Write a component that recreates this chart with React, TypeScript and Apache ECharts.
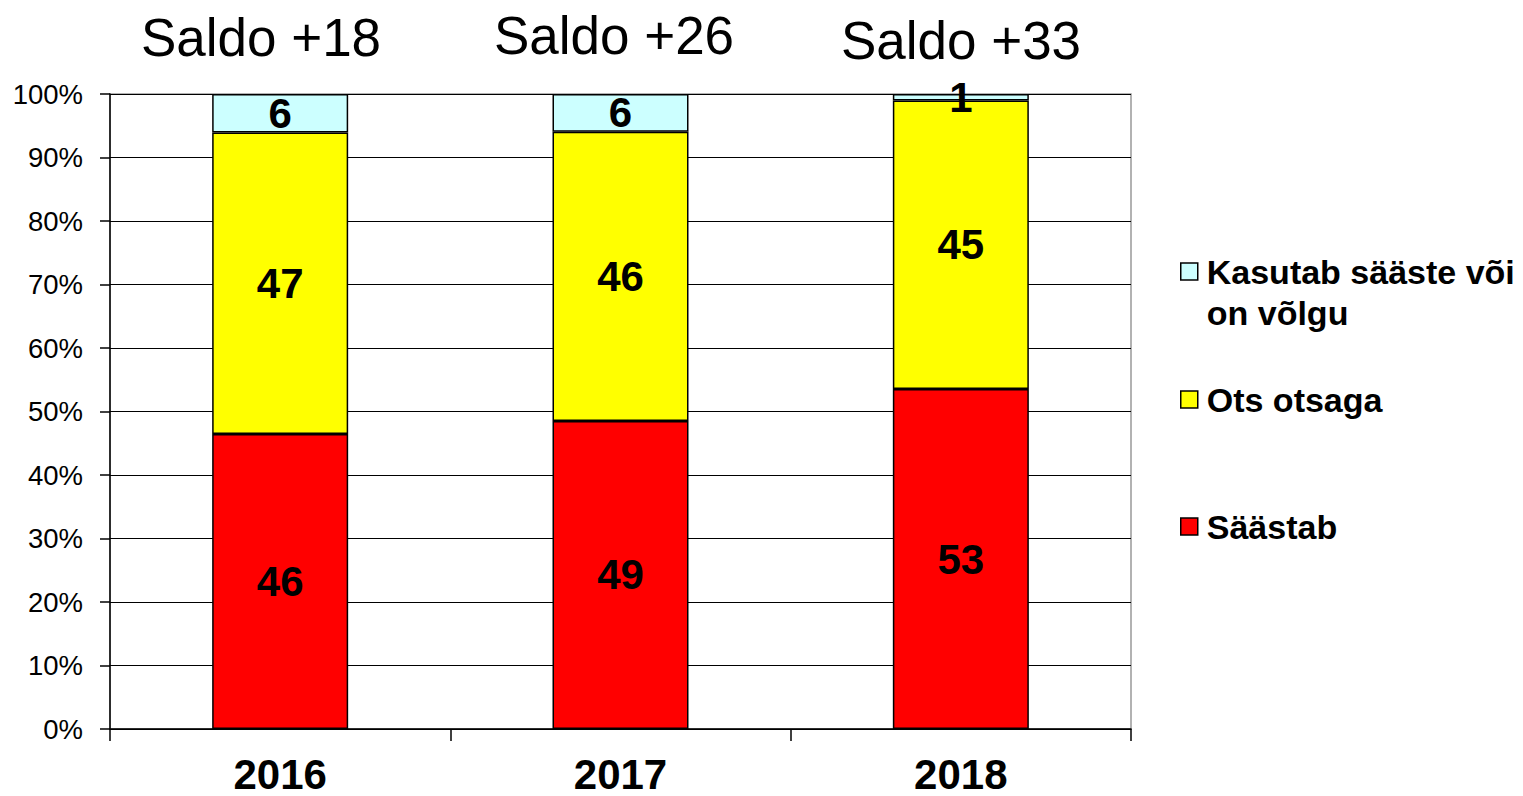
import React, { useEffect, useRef } from "react";
import * as echarts from "echarts";

const years = ["2016", "2017", "2018"];
const saastab = [46, 49, 53];
const otsOtsaga = [47, 46, 45];
const kasutab = [6, 6, 1];
const saldoTitles = ["Saldo +18", "Saldo +26", "Saldo +33"];
const seriesNames = ["Säästab", "Ots otsaga", "Kasutab sääste või on võlgu"];
const seriesColors = ["#FF0000", "#FFFF00", "#CCFFFF"];

const FONT = "'Liberation Sans', Arial, sans-serif";

export default function App() {
  const ref = useRef<HTMLDivElement>(null);

  useEffect(() => {
    if (!ref.current) return;
    const chart = echarts.init(ref.current, undefined, { renderer: "svg" });
    const raw = [saastab, otsOtsaga, kasutab];
    const totals = years.map((_, i) => raw.reduce((s, arr) => s + arr[i], 0));

    const series = raw.map((arr, si) => ({
      name: seriesNames[si],
      type: "bar",
      stack: "total",
      barWidth: 136,
      data: arr.map((v, i) => ({ value: (v / totals[i]) * 100, raw: v })),
      itemStyle: { color: seriesColors[si], borderColor: "#000", borderWidth: 1.5 },
      label: {
        show: true,
        position: "inside",
        formatter: (p: any) => String(p.data.raw),
        color: "#000",
        fontFamily: FONT,
        fontWeight: "bold",
        fontSize: 42,
      },
    }));

    const legendTops = [210, 379, 506];
    const legendOrder = [2, 1, 0];
    const legends = legendOrder.map((si, k) => ({
      show: true,
      orient: "vertical",
      left: 1180,
      top: legendTops[k],
      padding: 0,
      itemWidth: 17,
      itemHeight: 17,
      icon: "rect",
      data: [seriesNames[si]],
      selectedMode: false,
      formatter: si === 2 ? () => " \nKasutab sääste või\non võlgu" : undefined,
      itemStyle: { borderColor: "#000", borderWidth: 1.5 },
      textStyle: {
        fontFamily: FONT,
        fontWeight: "bold",
        fontSize: 34,
        lineHeight: 41,
        color: "#000",
        padding: [0, 0, 0, 4],
      },
    }));

    const titleX = [261, 614, 961];
    const titleY = [37, 35, 40];

    chart.setOption({
      animation: false,
      backgroundColor: "#fff",
      grid: {
        left: 110,
        right: 392,
        top: 94,
        bottom: 67,
        show: true,
        borderColor: "#999",
        borderWidth: 1.5,
      },
      legend: legends,
      xAxis: {
        type: "category",
        data: years,
        axisLine: { lineStyle: { color: "#000", width: 1.5 } },
        axisTick: { show: true, length: 12, lineStyle: { color: "#000", width: 1.5 } },
        axisLabel: {
          margin: 24,
          color: "#000",
          fontFamily: FONT,
          fontWeight: "bold",
          fontSize: 42,
        },
      },
      yAxis: {
        type: "value",
        min: 0,
        max: 100,
        interval: 10,
        axisLine: { show: true, lineStyle: { color: "#000", width: 1.5 } },
        axisTick: { show: true, length: 10, lineStyle: { color: "#000", width: 1.5 } },
        splitLine: { show: true, lineStyle: { color: "#000", width: 1 } },
        axisLabel: {
          margin: 27,
          color: "#000",
          fontFamily: FONT,
          fontSize: 27.5,
          formatter: "{value}%",
        },
      },
      series,
      graphic: saldoTitles.map((t, i) => ({
        type: "text",
        x: titleX[i],
        y: titleY[i],
        style: {
          text: t,
          fontFamily: FONT,
          fontSize: 53,
          fill: "#000",
          textAlign: "center",
          textVerticalAlign: "middle",
        },
      })),
    });

    return () => chart.dispose();
  }, []);

  return (
    <div
      ref={ref}
      style={{ position: "fixed", left: 0, top: 0, width: 1523, height: 796 }}
    />
  );
}
